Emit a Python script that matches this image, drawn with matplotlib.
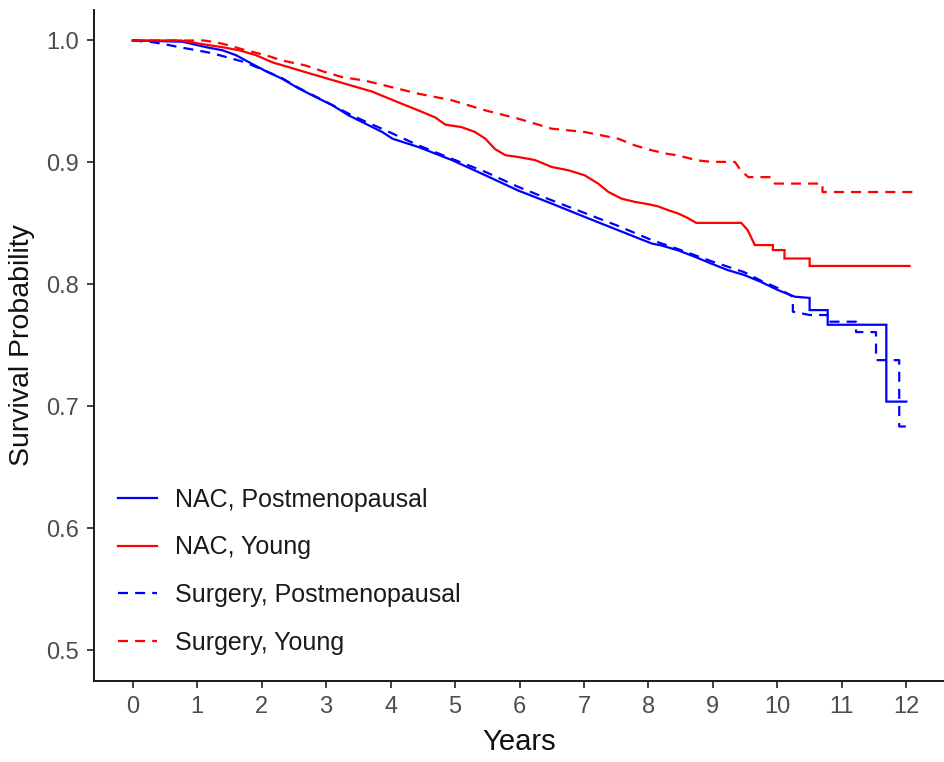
import matplotlib
matplotlib.use("Agg")
import matplotlib.pyplot as plt

plt.rcParams['font.family'] = ['Liberation Sans', 'DejaVu Sans']

# NAC, Postmenopausal (solid blue); repeated times mark vertical drops
t_nac_post = [0, 0.77, 1.14, 1.39, 1.6, 1.81, 2.06, 2.32, 2.58, 2.84, 3.1, 3.35, 3.61, 3.87, 4.03,
              4.43, 4.95, 5.47, 5.98, 6.5, 7.01, 7.53, 8.05, 8.2, 8.46, 8.72, 8.98, 9.23, 9.49, 9.75,
              10.01, 10.27, 10.5, 10.5, 10.78, 10.78, 11.69, 11.69, 12.0]
s_nac_post = [1.0, 0.999, 0.9945, 0.992, 0.988, 0.982, 0.975, 0.9686, 0.9605, 0.9536, 0.9468, 0.9386,
              0.9318, 0.925, 0.9195, 0.9127, 0.902, 0.8895, 0.877, 0.8663, 0.8554, 0.8445, 0.8336,
              0.832, 0.828, 0.8227, 0.817, 0.8118, 0.8077, 0.802, 0.7954, 0.790, 0.789, 0.779, 0.779,
              0.767, 0.767, 0.704, 0.704]

# NAC, Young (solid red)
t_nac_young = [0, 0.75, 1.08, 1.39, 1.65, 1.91, 2.17, 2.43, 2.68, 2.94, 3.2, 3.46, 3.72, 3.92, 4.18,
               4.43, 4.69, 4.85, 5.1, 5.31, 5.47, 5.62, 5.78, 5.98, 6.24, 6.5, 6.76, 7.01, 7.22, 7.38,
               7.58, 7.79, 8.0, 8.15, 8.3, 8.46, 8.61, 8.74, 9.44, 9.54, 9.65, 9.93, 9.93, 10.11, 10.11,
               10.5, 10.5, 12.05]
s_nac_young = [1.0, 1.0, 0.997, 0.9945, 0.992, 0.988, 0.982, 0.978, 0.974, 0.970, 0.966, 0.962, 0.958,
               0.9536, 0.948, 0.9427, 0.937, 0.931, 0.929, 0.925, 0.9195, 0.911, 0.906, 0.9045, 0.902,
               0.8963, 0.8936, 0.8895, 0.8827, 0.8758, 0.8704, 0.8677, 0.8658, 0.864, 0.861, 0.8582,
               0.8545, 0.8505, 0.8505, 0.8445, 0.8323, 0.8323, 0.8282, 0.8282, 0.8213, 0.8213, 0.8152,
               0.8152]

# Surgery, Postmenopausal (dashed blue)
t_sur_post = [0, 0.31, 0.52, 0.72, 0.93, 1.19, 1.34, 1.55, 1.75, 2.06, 2.32, 2.58, 2.84, 3.1, 3.35,
              3.61, 3.92, 4.43, 4.95, 5.47, 5.98, 6.5, 7.01, 7.53, 8.05, 8.46, 8.98, 9.49, 9.75, 10.01,
              10.24, 10.24, 10.5, 10.78, 10.78, 11.22, 11.22, 11.53, 11.53, 11.89, 11.89, 12.07]
s_sur_post = [1.0, 0.9986, 0.9967, 0.9945, 0.9926, 0.990, 0.988, 0.985, 0.982, 0.975, 0.969, 0.961,
              0.954, 0.947, 0.940, 0.9335, 0.9264, 0.9141, 0.903, 0.8923, 0.880, 0.869, 0.8586, 0.848,
              0.8364, 0.829, 0.819, 0.810, 0.803, 0.797, 0.790, 0.7777, 0.775, 0.775, 0.7695, 0.7695,
              0.761, 0.761, 0.738, 0.738, 0.6836, 0.6836]

# Surgery, Young (dashed red)
t_sur_young = [0, 1.1, 1.29, 1.5, 1.75, 2.06, 2.32, 2.68, 2.99, 3.25, 3.61, 3.92, 4.43, 4.95, 5.47,
               5.98, 6.5, 7.01, 7.53, 7.79, 8.05, 8.3, 8.46, 8.75, 8.98, 9.34, 9.44, 9.55, 9.9, 9.96,
               10.7, 10.7, 12.1]
s_sur_young = [1.0, 1.0, 0.9986, 0.9959, 0.992, 0.988, 0.9836, 0.9795, 0.974, 0.970, 0.967, 0.963,
               0.9564, 0.951, 0.9427, 0.9359, 0.9277, 0.925, 0.9195, 0.914, 0.910, 0.907, 0.9058,
               0.9018, 0.9005, 0.9005, 0.893, 0.888, 0.888, 0.8827, 0.8827, 0.8758, 0.8758]

labels = ["NAC, Postmenopausal", "NAC, Young", "Surgery, Postmenopausal", "Surgery, Young"]
x_ticks = list(range(0, 13))
y_ticks = [0.5, 0.6, 0.7, 0.8, 0.9, 1.0]

fig = plt.figure(figsize=(9.45, 7.62), dpi=100)
ax = fig.add_axes([0.0995, 0.1063, 0.9005, 0.8806])

lw = 1.6
dash = (4.5, 3.2)
series = [
    (t_nac_post, s_nac_post, "#0000FF", "-"),
    (t_nac_young, s_nac_young, "#FF0000", "-"),
    (t_sur_post, s_sur_post, "#0000FF", "--"),
    (t_sur_young, s_sur_young, "#FF0000", "--"),
]
for (t, s, c, ls), lab in zip(series, labels):
    line, = ax.plot(t, s, color=c, linewidth=lw, linestyle=ls, label=lab,
                    solid_joinstyle="miter")
    if ls == "--":
        line.set_dashes(dash)

ax.set_xlim(-0.6, 12.6)
ax.set_ylim(0.475, 1.025)
ax.set_xticks(x_ticks)
ax.set_xticklabels([str(v) for v in x_ticks])
ax.set_yticks(y_ticks)
ax.set_yticklabels([f"{v:.1f}" for v in y_ticks])

for sp in ["top", "right"]:
    ax.spines[sp].set_visible(False)
for sp in ["left", "bottom"]:
    ax.spines[sp].set_color("#1a1a1a")
    ax.spines[sp].set_linewidth(1.4)

ax.tick_params(axis="both", direction="out", length=5, width=1.3, color="#333333",
               labelcolor="#4D4D4D", labelsize=17, pad=6)

ax.set_xlabel("Years", fontsize=21, color="#111111", labelpad=7)
ax.set_ylabel("Survival Probability", fontsize=20.5, color="#111111", labelpad=8)

leg = ax.legend(loc="lower left", bbox_to_anchor=(0.008, 0.013), frameon=False, fontsize=18,
                handlelength=1.56, handletextpad=0.72, labelspacing=0.95, borderaxespad=0.3)
for txt in leg.get_texts():
    txt.set_color("#1a1a1a")

fig.savefig("out.png", dpi=100)
